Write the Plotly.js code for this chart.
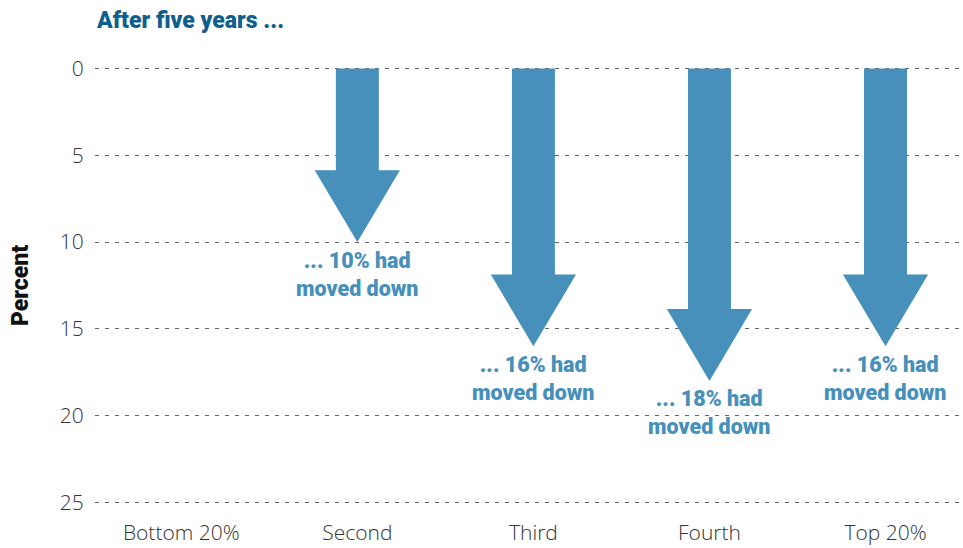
<!DOCTYPE html>
<html>
<head>
<meta charset="utf-8">
<script src="https://cdn.plot.ly/plotly-3.0.1.min.js"></script>
<style>html,body{margin:0;padding:0;background:#fff;}#chart{width:963px;height:548px;}</style>
</head>
<body>
<div id="chart"></div>
<script>
// Data
const categories = ["Bottom 20%", "Second", "Third", "Fourth", "Top 20%"];
const movedDown = [null, 10, 16, 18, 16];
const labels = [null, "... 10% had<br>moved down", "... 16% had<br>moved down", "... 18% had<br>moved down", "... 16% had<br>moved down"];
const yTicks = [0, 5, 10, 15, 20, 25];

// Arrow geometry (in axis units)
const shaftHalf = 0.122, headHalf = 0.242, headLen = 4.14;
const arrowColor = "#4690BB";
const labelFont = {family: "Roboto, sans-serif", size: 21.5, color: arrowColor, weight: 900};

const traces = [];
const annotations = [];
movedDown.forEach((v, i) => {
  if (v === null) return;
  const hb = v - headLen;
  traces.push({
    type: "scatter", mode: "lines", fill: "toself",
    x: [i - shaftHalf, i + shaftHalf, i + shaftHalf, i + headHalf, i, i - headHalf, i - shaftHalf, i - shaftHalf],
    y: [0, 0, hb, hb, v, hb, hb, 0],
    fillcolor: arrowColor, line: {width: 0, color: arrowColor},
    hoverinfo: "skip", showlegend: false
  });
  annotations.push({
    x: i, y: v, xref: "x", yref: "y", text: labels[i], showarrow: false,
    yanchor: "middle", xanchor: "center", yshift: -32, font: labelFont, align: "center"
  });
});

const layout = {
  width: 963, height: 548,
  margin: {l: 95, r: 0, t: 64.5, b: 41.5},
  paper_bgcolor: "#fff", plot_bgcolor: "#fff",
  title: {
    text: "After five years ...",
    x: 97 / 963, xref: "container", xanchor: "left",
    y: 1 - 20 / 548, yref: "container", yanchor: "middle",
    font: {family: "Roboto, sans-serif", size: 23, color: "#0F5F8E", weight: 900}
  },
  xaxis: {
    range: [-0.49, 4.44],
    tickvals: categories.map((c, i) => i), ticktext: categories,
    showgrid: false, zeroline: false, showline: false,
    ticks: "outside", ticklen: 8, tickcolor: "rgba(0,0,0,0)",
    tickfont: {family: "Open Sans, sans-serif", size: 21, color: "#333", weight: 300},
    fixedrange: true
  },
  yaxis: {
    range: [25.2, -0.2],
    tickvals: yTicks,
    showgrid: true, gridcolor: "#666", gridwidth: 1, griddash: "4px,6px",
    zeroline: false, showline: false,
    ticks: "outside", ticklen: 6, tickcolor: "rgba(0,0,0,0)",
    tickfont: {family: "Open Sans, sans-serif", size: 21, color: "#333", weight: 300},
    title: {text: "Percent", standoff: 24, font: {family: "Roboto, sans-serif", size: 23, color: "#111", weight: 900}},
    fixedrange: true
  },
  annotations: annotations,
  showlegend: false
};

Plotly.newPlot("chart", traces, layout, {displayModeBar: false, staticPlot: true});
</script>
</body>
</html>
